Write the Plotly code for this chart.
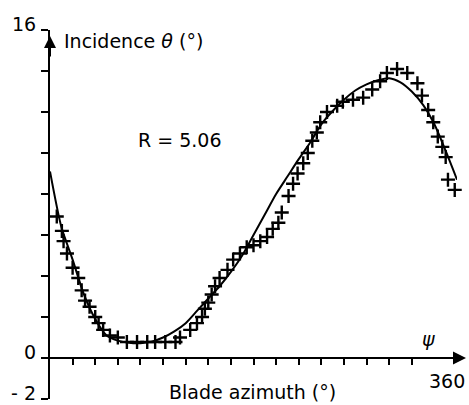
import plotly.graph_objects as go

# ---- data ----
line_psi = [0, 10, 20, 30, 40, 50, 60, 70, 80, 90, 100, 110, 120, 130, 140, 150, 160, 170, 180,
            190, 200, 210, 220, 230, 240, 250, 260, 270, 280, 290, 300, 310, 320, 330, 340, 350, 360]
line_theta = [9.1, 6.4, 4.8, 3.1, 1.9, 1.1, 0.85, 0.74, 0.72, 0.8, 1.0, 1.3, 1.7, 2.3, 2.9, 3.5, 4.2, 5.0, 6.0,
              7.0, 8.0, 8.85, 9.7, 10.5, 11.4, 12.05, 12.6, 13.05, 13.35, 13.55, 13.65, 13.45, 13.0, 12.35, 11.4, 10.1, 8.7]

plus_psi = [6, 10.5, 12, 15, 20, 25, 28, 31, 35, 40, 43, 47, 53, 60, 68, 77, 86, 93, 102, 111,
            115, 124, 130, 134.5, 137, 140, 143, 146, 150, 157, 162, 168, 174, 180, 186, 192, 197, 202,
            205, 211, 215, 219, 224, 228, 232, 236, 239, 245, 254, 259, 268, 277, 285, 292, 298, 307,
            316, 325, 329, 334.5, 339, 343, 347, 350, 352, 358]
plus_theta = [6.9, 6.2, 5.7, 5.1, 4.4, 3.9, 3.3, 2.8, 2.5, 2.0, 1.7, 1.37, 1.1, 1.0, 0.78, 0.78, 0.78, 0.78, 0.78, 0.78,
              1.0, 1.37, 1.7, 2.0, 2.4, 2.7, 3.1, 3.5, 3.9, 4.3, 4.8, 5.1, 5.4, 5.5, 5.7, 5.9, 6.3, 6.6,
              7.1, 7.9, 8.5, 9.0, 9.5, 10.0, 10.6, 11.0, 11.5, 12.0, 12.3, 12.5, 12.6, 12.7, 13.1, 13.5, 13.9, 14.1,
              13.9, 13.4, 12.8, 12.1, 11.5, 10.8, 10.3, 9.8, 8.7, 8.2]

x_ticks = list(range(20, 340, 20))
y_ticks = list(range(-2, 18, 2))
y_labels = {16: "16", 0: "0", -2: "- 2"}

W, H = 469, 405
ML, MR, MT, MB = 50, 12, 30, 6
PW, PH = W - ML - MR, H - MT - MB

def px(x):
    return (x - ML) / PW

def py(y):
    return (H - MB - y) / PH

def vy(v):
    # paper fraction of a data value on the y axis (range -2..16)
    return (v + 2) / 18

FONT = dict(family="DejaVu Sans", size=19, color="black")

fig = go.Figure()
fig.add_trace(go.Scatter(x=line_psi, y=line_theta, mode="lines",
                         line=dict(color="black", width=2, shape="spline", smoothing=0.7),
                         hoverinfo="skip", cliponaxis=False))
fig.add_trace(go.Scatter(x=plus_psi, y=plus_theta, mode="markers",
                         marker=dict(symbol="cross-thin", size=10, color="black",
                                     line=dict(color="black", width=2.4)),
                         cliponaxis=False))

annotations = []
# y tick labels (placed slightly above their ticks, as in the reference)
for v, t in y_labels.items():
    annotations.append(dict(x=px(38), y=vy(v) + 6 / PH, xref="paper", yref="paper", text=t,
                            showarrow=False, xanchor="right", yanchor="middle", font=FONT))
annotations += [
    dict(x=px(62), y=py(41), xref="paper", yref="paper", text="Incidence <i>θ</i> (°)",
         showarrow=False, xanchor="left", yanchor="middle", font=FONT),
    dict(x=px(180), y=py(140), xref="paper", yref="paper", text="R = 5.06",
         showarrow=False, xanchor="center", yanchor="middle", font=FONT),
    dict(x=px(428), y=py(339), xref="paper", yref="paper", text="<i>ψ</i>",
         showarrow=False, xanchor="center", yanchor="middle", font=FONT),
    dict(x=px(447), y=py(381), xref="paper", yref="paper", text="360",
         showarrow=False, xanchor="center", yanchor="middle", font=FONT),
    dict(x=px(252), y=py(392), xref="paper", yref="paper", text="Blade azimuth (°)",
         showarrow=False, xanchor="center", yanchor="middle", font=FONT),
    # x axis arrow
    dict(x=px(466), y=vy(0), xref="paper", yref="paper", ax=-30, ay=0,
         text="", showarrow=True, arrowhead=2, arrowsize=1.3, arrowwidth=2, arrowcolor="black"),
    # y axis arrow
    dict(x=0, y=py(36), xref="paper", yref="paper", ax=0, ay=22, text="", showarrow=True,
         arrowhead=2, arrowsize=1.2, arrowwidth=2, arrowcolor="black"),
]

fig.update_layout(
    width=W, height=H,
    margin=dict(l=ML, r=MR, t=MT, b=MB),
    paper_bgcolor="white", plot_bgcolor="white",
    showlegend=False,
    hovermode=False,
    annotations=annotations,
    xaxis=dict(range=[0, 360], domain=[0, 1], anchor="free", position=vy(0),
               showline=True, linecolor="black", linewidth=2,
               ticks="outside", tickvals=x_ticks, ticklen=6, tickwidth=2, tickcolor="black",
               showticklabels=False, showgrid=False, zeroline=False),
    yaxis=dict(range=[-2, 16], domain=[0, 1],
               showline=True, linecolor="black", linewidth=2,
               ticks="outside", tickvals=y_ticks, ticklen=7, tickwidth=1.5, tickcolor="black",
               showticklabels=False, showgrid=False, zeroline=False),
)

fig.write_html("out.html", config={"displayModeBar": False},
               post_script="document.body.style.margin='0px';document.body.style.overflow='hidden';")
